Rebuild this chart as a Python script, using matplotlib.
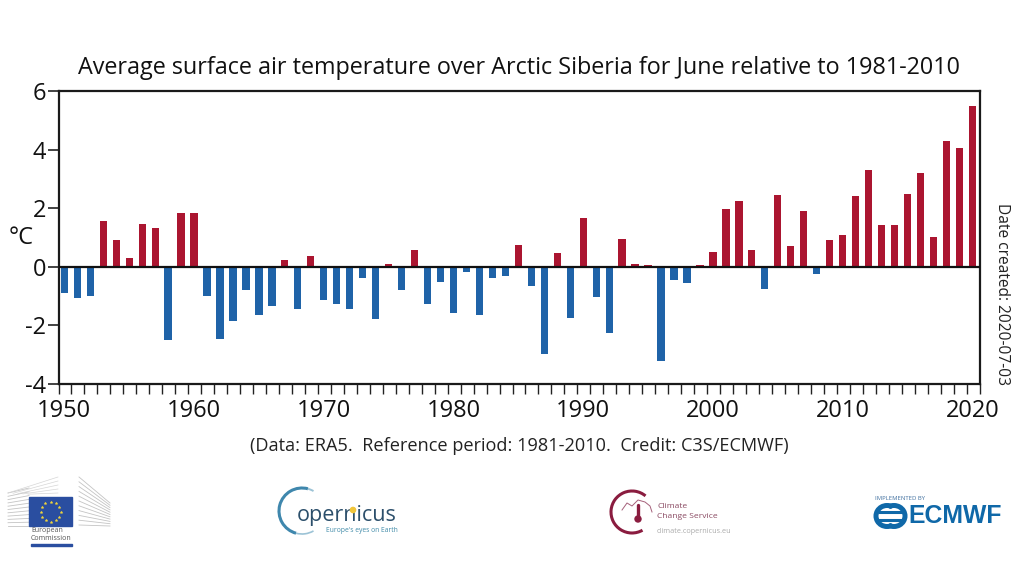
import numpy as np
import matplotlib
matplotlib.use('Agg')
import matplotlib.pyplot as plt
from matplotlib.patches import Arc, Rectangle

plt.rcParams['font.family'] = ['Open Sans', 'DejaVu Sans']

years = list(range(1950, 2021))
anomalies = [
    -0.91, -1.06, -0.98, 1.58, 0.90, 0.30, 1.47, 1.34, -2.49, 1.85,
    1.85, -0.98, -2.47, -1.85, -0.80, -1.64, -1.33, 0.22, -1.44, 0.38,
    -1.15, -1.27, -1.43, -0.37, -1.77, 0.08, -0.80, 0.59, -1.26, -0.52,
    -1.58, -0.17, -1.65, -0.39, -0.33, 0.73, -0.66, -2.98, 0.48, -1.75,
    1.66, -1.04, -2.26, 0.96, 0.10, 0.06, -3.23, -0.44, -0.55, 0.05,
    0.52, 1.97, 2.23, 0.56, -0.77, 2.46, 0.71, 1.90, -0.23, 0.90,
    1.08, 2.41, 3.32, 1.41, 1.42, 2.49, 3.19, 1.00, 4.30, 4.05,
    5.49,
]
label_years = [1950, 1960, 1970, 1980, 1990, 2000, 2010, 2020]
y_ticks = [-4, -2, 0, 2, 4, 6]

RED = '#ab1530'
BLUE = '#1f63a8'
W, H = 1024, 576

fig = plt.figure(figsize=(W / 100, H / 100), dpi=100)
ax = fig.add_axes([58.5 / W, 1 - 384 / H, 921 / W, 293 / H])

colors = [RED if v > 0 else BLUE for v in anomalies]
ax.bar(years, anomalies, width=0.56, color=colors, zorder=2)
ax.axhline(0, color='#111111', lw=1.6, zorder=3)

ax.set_xlim(1949.55, 2020.55)
ax.set_ylim(-4, 6)

# tick marks sit between the bars, the labels under the bars
ax.set_xticks(np.arange(1949.55, 2021, 1.0))
ax.set_xticklabels([])
ax.tick_params(axis='x', length=7, width=1, color='#222222')
ax.set_yticks(y_ticks)
ax.set_yticklabels([str(t) for t in y_ticks], fontsize=17, color='#111111')
ax.tick_params(axis='y', length=8, width=1.2, pad=1, color='#222222')
for s in ax.spines.values():
    s.set_linewidth(1.6)
    s.set_color('#1a1a1a')
for yr in label_years:
    ax.annotate(str(yr), (yr, -4), xytext=(0, -11), textcoords='offset points',
                ha='center', va='top', fontsize=17, color='#111111')

# everything outside the plot is placed in pixel coordinates
ov = fig.add_axes([0, 0, 1, 1], zorder=5)
ov.set_xlim(0, W)
ov.set_ylim(H, 0)
ov.axis('off')
ov.patch.set_alpha(0)

ov.text(519, 68, 'Average surface air temperature over Arctic Siberia for June relative to 1981-2010',
        ha='center', va='center', fontsize=16.8, color='#111111')
ov.text(519, 446, '(Data: ERA5.  Reference period: 1981-2010.  Credit: C3S/ECMWF)',
        ha='center', va='center', fontsize=13.05, color='#222222')
ov.text(21, 238, '°C', ha='center', va='center', fontsize=17, color='#111111')
ov.text(1002, 294, 'Date created: 2020-07-03', rotation=270, ha='center', va='center',
        fontsize=11.2, color='#222222')

# European Commission logo
for i in range(11):
    y = 493 + i * 3.3
    ov.plot([8, 29], [y, y - (10 - i) * 0.5], color='#c4c4c4', lw=0.6)
    ov.plot([79, 110], [477 + i * 4.8, 503 + i * 2.3], color='#c4c4c4', lw=0.6)
for i in range(5):
    ov.plot([8 + i * 5, 58], [493 + i * 0.3, 477 + i * 4], color='#d6d6d6', lw=0.5)
ov.add_patch(Rectangle((29, 497), 43, 29, color='#2a4ea0', zorder=3))
ang = np.deg2rad(np.arange(0, 360, 30))
ov.scatter(50.5 + 10 * np.cos(ang), 511.5 + 10 * np.sin(ang), s=4, marker='*',
           color='#f2d63a', linewidths=0.3, zorder=4)
ov.text(31, 531, 'European', fontsize=5, color='#555555', va='center')
ov.text(31, 539, 'Commission', fontsize=5, color='#555555', va='center')
ov.add_patch(Rectangle((31, 544), 41, 2, color='#2a4ea0'))

# Copernicus logo
ov.add_patch(Arc((302, 511), 46, 46, theta1=105, theta2=285, color='#3f87ad', lw=2.2))
ov.add_patch(Arc((302, 511), 46, 46, theta1=285, theta2=300, color='#9cc3d6', lw=1.4))
ov.add_patch(Arc((302, 511), 46, 46, theta1=60, theta2=105, color='#9cc3d6', lw=1.2))
ov.text(297, 516, 'opernicus', fontsize=15.5, color='#2c4f6b', va='center', ha='left')
ov.text(398, 531, "Europe's eyes on Earth", fontsize=4.9, color='#3f8aa8', va='center', ha='right')
ov.add_patch(plt.Circle((353, 510), 2.6, color='#f0c53a', zorder=4))

# Climate Change Service logo
ov.add_patch(Arc((632, 512), 42, 42, theta1=60, theta2=310, color='#8a1c3f', lw=2.2))
cloud_x = [622, 627, 632, 638, 645, 650, 652]
cloud_y = [510, 503, 506, 500, 502, 506, 512]
ov.plot(cloud_x, cloud_y, color='#a5607a', lw=0.7)
ov.plot([638, 638], [505, 518], color='#8a1c3f', lw=2.4, solid_capstyle='round')
ov.add_patch(plt.Circle((638, 519), 3, color='#8a1c3f'))
ov.text(657, 506.5, 'Climate', fontsize=6.1, color='#8a4a62', va='center')
ov.text(657, 516, 'Change Service', fontsize=6.1, color='#8a4a62', va='center')
ov.text(657, 531.5, 'climate.copernicus.eu', fontsize=5.2, color='#aaaaaa', va='center')

# ECMWF logo
ECMWF_BLUE = '#0f68a8'
ov.text(875, 499, 'IMPLEMENTED BY', fontsize=4.2, color='#3f6f9f', va='center')
ov.add_patch(Arc((887, 516), 22, 21, theta1=60, theta2=300, color=ECMWF_BLUE, lw=3.6))
ov.add_patch(Arc((894, 516), 22, 21, theta1=-120, theta2=120, color=ECMWF_BLUE, lw=3.6))
ov.plot([880, 901], [512, 512], color=ECMWF_BLUE, lw=2.2)
ov.plot([880, 901], [520, 520], color=ECMWF_BLUE, lw=2.2)
ov.text(908, 516, 'ECMWF', fontsize=17.8, fontweight='bold', color=ECMWF_BLUE, va='center',
        family=['Liberation Sans', 'DejaVu Sans'])

fig.savefig('out.png', dpi=100, facecolor='white')
